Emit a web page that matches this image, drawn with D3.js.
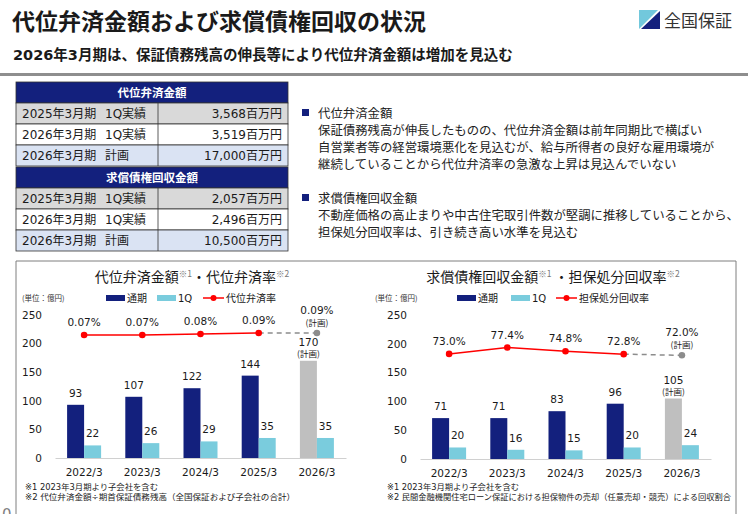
<!DOCTYPE html>
<html>
<head>
<meta charset="utf-8">
<script src="https://cdn.jsdelivr.net/npm/d3@7"></script>
<style>
  body { margin: 0; background: #fff; }
  svg text { font-family: "DejaVu Sans", "Noto Sans CJK JP", sans-serif; fill: #1a1a1a; }
  svg text.jp { font-family: "Noto Sans CJK JP", sans-serif; }
</style>
</head>
<body>
<svg id="page" width="748" height="514"></svg>
<script>
// ---------- data ----------
var years = ["2022/3", "2023/3", "2024/3", "2025/3", "2026/3"];
var planYear = "2026/3";

var subroAnnual = [93, 107, 122, 144, 170];
var subro1Q = [22, 26, 29, 35, 35];
var subroRate = [0.07, 0.07, 0.08, 0.09, 0.09];

var recovAnnual = [71, 71, 83, 96, 105];
var recov1Q = [20, 16, 15, 20, 24];
var recovRate = [73.0, 77.4, 74.8, 72.8, 72.0];

var yTicks = [0, 50, 100, 150, 200, 250];

var tablePeriods = ["2025年3月期", "2026年3月期", "2026年3月期"];
var tableKinds = ["1Q実績", "1Q実績", "計画"];
var subroTable = ["3,568百万円", "3,519百万円", "17,000百万円"];
var recovTable = ["2,057百万円", "2,496百万円", "10,500百万円"];

var block1 = ["代位弁済金額",
  "保証債務残高が伸長したものの、代位弁済金額は前年同期比で横ばい",
  "自営業者等の経営環境悪化を見込むが、給与所得者の良好な雇用環境が",
  "継続していることから代位弁済率の急激な上昇は見込んでいない"];
var block2 = ["求償債権回収金額",
  "不動産価格の高止まりや中古住宅取引件数が堅調に推移していることから、",
  "担保処分回収率は、引き続き高い水準を見込む"];

// colours
var navy = "#13207d", sky = "#7accdd", planGray = "#bfbfbf", red = "#ff0000";

var svg = d3.select("#page");

// ---------- header ----------
svg.append("text").attr("class", "jp").attr("x", 12).attr("y", 30)
  .attr("font-size", 23).attr("font-weight", 700)
  .text("代位弁済金額および求償債権回収の状況");
svg.append("text").attr("x", 13).attr("y", 60)
  .attr("font-size", 14.5).attr("font-weight", 700)
  .text("2026年3月期は、保証債務残高の伸長等により代位弁済金額は増加を見込む");
svg.append("rect").attr("x", 0).attr("y", 73).attr("width", 748).attr("height", 3)
  .attr("fill", "#8e8e8e");

// logo
svg.append("polygon").attr("points", "639,10 658,10 639,29").attr("fill", "#72c8dc");
svg.append("polygon").attr("points", "660,11 660,29 641,29").attr("fill", navy);
svg.append("text").attr("class", "jp").attr("x", 664).attr("y", 27)
  .attr("font-size", 17).style("fill", "#333")
  .text("全国保証");

// ---------- tables ----------
var rowFills = ["#d9d9d9", "#ffffff", "#dae3f3"];
function drawTable(top, header, values) {
  var g = svg.append("g");
  g.append("rect").attr("x", 16).attr("y", top).attr("width", 272).attr("height", 21)
    .attr("fill", navy).attr("stroke", "#333").attr("stroke-width", 0.8);
  g.append("text").attr("class", "jp").attr("x", 152).attr("y", top + 15)
    .attr("text-anchor", "middle").attr("font-size", 11.5).attr("font-weight", 700)
    .style("fill", "#fff").text(header);
  values.forEach(function (v, i) {
    var ry = top + 21 * (i + 1);
    g.append("rect").attr("x", 16).attr("y", ry).attr("width", 272).attr("height", 21)
      .attr("fill", rowFills[i]).attr("stroke", "#333").attr("stroke-width", 0.8);
    g.append("line").attr("x1", 158).attr("x2", 158).attr("y1", ry).attr("y2", ry + 21)
      .attr("stroke", "#333").attr("stroke-width", 0.8);
    g.append("text").attr("x", 22).attr("y", ry + 15).attr("font-size", 12).text(tablePeriods[i]);
    g.append("text").attr("x", 105).attr("y", ry + 15).attr("font-size", 12).text(tableKinds[i]);
    g.append("text").attr("x", 282).attr("y", ry + 15).attr("font-size", 12)
      .attr("text-anchor", "end").text(v);
  });
}
drawTable(82, "代位弁済金額", subroTable);
drawTable(167, "求償債権回収金額", recovTable);

// ---------- bullet text ----------
function drawBlock(top, lines) {
  svg.append("rect").attr("x", 302).attr("y", top - 4).attr("width", 7).attr("height", 7).attr("fill", navy);
  lines.forEach(function (l, i) {
    svg.append("text").attr("class", "jp").attr("x", 318).attr("y", top + 4.5 + i * 17)
      .attr("font-size", 12.4).style("fill", "#222").text(l);
  });
}
drawBlock(113, block1);
drawBlock(198, block2);

// ---------- chart panel frame ----------
svg.append("path").attr("d", "M16,514V261H736V514").attr("fill", "none")
  .attr("stroke", "#7f7f7f").attr("stroke-width", 1);

// ---------- charts ----------
function drawChart(o) {
  var g = svg.append("g");
  var x = d3.scaleBand().domain(years).range(o.xRange);
  var y = d3.scaleLinear().domain([0, 250]).range(o.yRange);
  var yr = d3.scaleLinear().domain(o.rateDomain).range(o.rateRange);
  var bw = 17;
  var cx = function (d) { return x(d) + x.bandwidth() / 2; };

  // title
  var t = g.append("text").attr("class", "jp").attr("x", o.titleX).attr("y", 282)
    .attr("text-anchor", "middle").attr("font-size", 14);
  t.append("tspan").text(o.title[0]);
  t.append("tspan").attr("font-size", 8.5).attr("dy", -5).style("fill", "#777").text("※1");
  t.append("tspan").attr("dy", 5).text(o.title[1]);
  t.append("tspan").attr("font-size", 8.5).attr("dy", -5).style("fill", "#777").text("※2");

  // unit + legend
  g.append("text").attr("class", "jp").attr("x", o.unitX).attr("y", 301)
    .attr("font-size", 7.5).style("fill", "#333").text("(単位：億円)");
  var lg = o.legend;
  g.append("rect").attr("x", lg[0]).attr("y", 295).attr("width", 19).attr("height", 6).attr("fill", navy);
  g.append("text").attr("class", "jp").attr("x", lg[0] + 21).attr("y", 302).attr("font-size", 10).text("通期");
  g.append("rect").attr("x", lg[1]).attr("y", 295).attr("width", 19).attr("height", 6).attr("fill", sky);
  g.append("text").attr("x", lg[1] + 21).attr("y", 302).attr("font-size", 10).text("1Q");
  g.append("line").attr("x1", lg[2]).attr("x2", lg[2] + 21).attr("y1", 298).attr("y2", 298)
    .attr("stroke", red).attr("stroke-width", 1.5);
  g.append("circle").attr("cx", lg[2] + 10.5).attr("cy", 298).attr("r", 3).attr("fill", red);
  g.append("text").attr("class", "jp").attr("x", lg[2] + 23).attr("y", 302).attr("font-size", 10).text(o.rateName);

  // y axis labels
  var ya = g.append("g").attr("transform", "translate(" + o.yLabelX + ",0)")
    .call(d3.axisLeft(y).tickValues(yTicks).tickSize(0).tickPadding(0));
  ya.select(".domain").remove();
  ya.attr("font-family", null).attr("font-size", null);
  ya.selectAll("text").attr("font-size", 10.5).style("fill", "#1a1a1a");

  // x axis
  var xa = g.append("g").attr("transform", "translate(0," + y(0) + ")")
    .call(d3.axisBottom(x).tickSize(0).tickSizeOuter(0).tickPadding(11));
  xa.select(".domain").attr("stroke", "#d0d0d0");
  xa.attr("font-family", null).attr("font-size", null);
  xa.selectAll("text").attr("font-size", 10.5).style("fill", "#1a1a1a");

  // bars
  g.selectAll(".annual").data(years).enter().append("rect")
    .attr("x", function (d) { return cx(d) - bw; })
    .attr("y", function (d, i) { return y(o.annual[i]); })
    .attr("width", bw)
    .attr("height", function (d, i) { return y(0) - y(o.annual[i]); })
    .attr("fill", function (d) { return d === planYear ? planGray : navy; });
  g.selectAll(".q1").data(years).enter().append("rect")
    .attr("x", function (d) { return cx(d); })
    .attr("y", function (d, i) { return y(o.q1[i]); })
    .attr("width", bw)
    .attr("height", function (d, i) { return y(0) - y(o.q1[i]); })
    .attr("fill", sky);

  // bar labels
  years.forEach(function (d, i) {
    var top = y(o.annual[i]);
    if (d === planYear) {
      g.append("text").attr("x", cx(d) - bw / 2).attr("y", top - 15).attr("text-anchor", "middle")
        .attr("font-size", 10.5).text(o.annual[i]);
      g.append("text").attr("class", "jp").attr("x", cx(d) - bw / 2).attr("y", top - 4).attr("text-anchor", "middle")
        .attr("font-size", 8.5).text("(計画)");
    } else {
      g.append("text").attr("x", cx(d) - bw / 2).attr("y", top - 8).attr("text-anchor", "middle")
        .attr("font-size", 10.5).text(o.annual[i]);
    }
    g.append("text").attr("x", cx(d) + bw / 2).attr("y", y(o.q1[i]) - 8).attr("text-anchor", "middle")
      .attr("font-size", 10.5).text(o.q1[i]);
  });

  // rate line
  var actual = years.filter(function (d) { return d !== planYear; });
  var line = d3.line().x(function (d) { return cx(d); })
    .y(function (d) { return yr(o.rate[years.indexOf(d)]); });
  g.append("path").datum(actual).attr("d", line).attr("fill", "none")
    .attr("stroke", red).attr("stroke-width", 1.5);
  g.append("path").datum([actual[actual.length - 1], planYear]).attr("d", line).attr("fill", "none")
    .attr("stroke", "#8c8c8c").attr("stroke-width", 1.5).attr("stroke-dasharray", "5,4");
  years.forEach(function (d, i) {
    var py = yr(o.rate[i]);
    var plan = d === planYear;
    g.append("circle").attr("cx", cx(d)).attr("cy", py).attr("r", 3.3)
      .attr("fill", plan ? "#8c8c8c" : red);
    if (plan) {
      g.append("text").attr("x", cx(d)).attr("y", py - 19).attr("text-anchor", "middle")
        .attr("font-size", 10.5).text(o.fmt(o.rate[i]));
      g.append("text").attr("class", "jp").attr("x", cx(d)).attr("y", py - 7).attr("text-anchor", "middle")
        .attr("font-size", 8.5).text("(計画)");
    } else {
      g.append("text").attr("x", cx(d)).attr("y", py - 9).attr("text-anchor", "middle")
        .attr("font-size", 10.5).text(o.fmt(o.rate[i]));
    }
  });

  // footnotes (stretched to the widths they take in the slide)
  o.notes.forEach(function (n, i) {
    g.append("text").attr("x", o.noteX).attr("y", 490 + i * 9.5)
      .attr("font-size", 8.3).style("fill", "#222")
      .attr("textLength", o.noteW[i]).attr("lengthAdjust", "spacingAndGlyphs")
      .text(n);
  });
}

drawChart({
  xRange: [55, 346], yRange: [458, 315], yLabelX: 42,
  rateDomain: [0.07, 0.09], rateRange: [335, 333],
  annual: subroAnnual, q1: subro1Q, rate: subroRate,
  fmt: function (v) { return v.toFixed(2) + "%"; },
  title: ["代位弁済金額", "・代位弁済率"], titleX: 192,
  unitX: 22, legend: [106, 157, 203], rateName: "代位弁済率",
  noteX: 25, noteW: [133, 270],
  notes: ["※1 2023年3月期より子会社を含む", "※2 代位弁済金額÷期首保証債務残高（全国保証および子会社の合計）"]
});

drawChart({
  xRange: [420, 711], yRange: [459, 315], yLabelX: 407,
  rateDomain: [0, 100], rateRange: [459, 315],
  annual: recovAnnual, q1: recov1Q, rate: recovRate,
  fmt: function (v) { return v.toFixed(1) + "%"; },
  title: ["求償債権回収金額", " ・担保処分回収率"], titleX: 553,
  unitX: 375, legend: [457, 511, 556], rateName: "担保処分回収率",
  noteX: 387, noteW: [132, 344],
  notes: ["※1 2023年3月期より子会社を含む", "※2 民間金融機関住宅ローン保証における担保物件の売却（任意売却・競売）による回収割合"]
});

// page number peeking at the bottom
svg.append("text").attr("x", 2).attr("y", 520).attr("font-size", 15).style("fill", "#7f7f7f").text("0");
</script>
</body>
</html>
